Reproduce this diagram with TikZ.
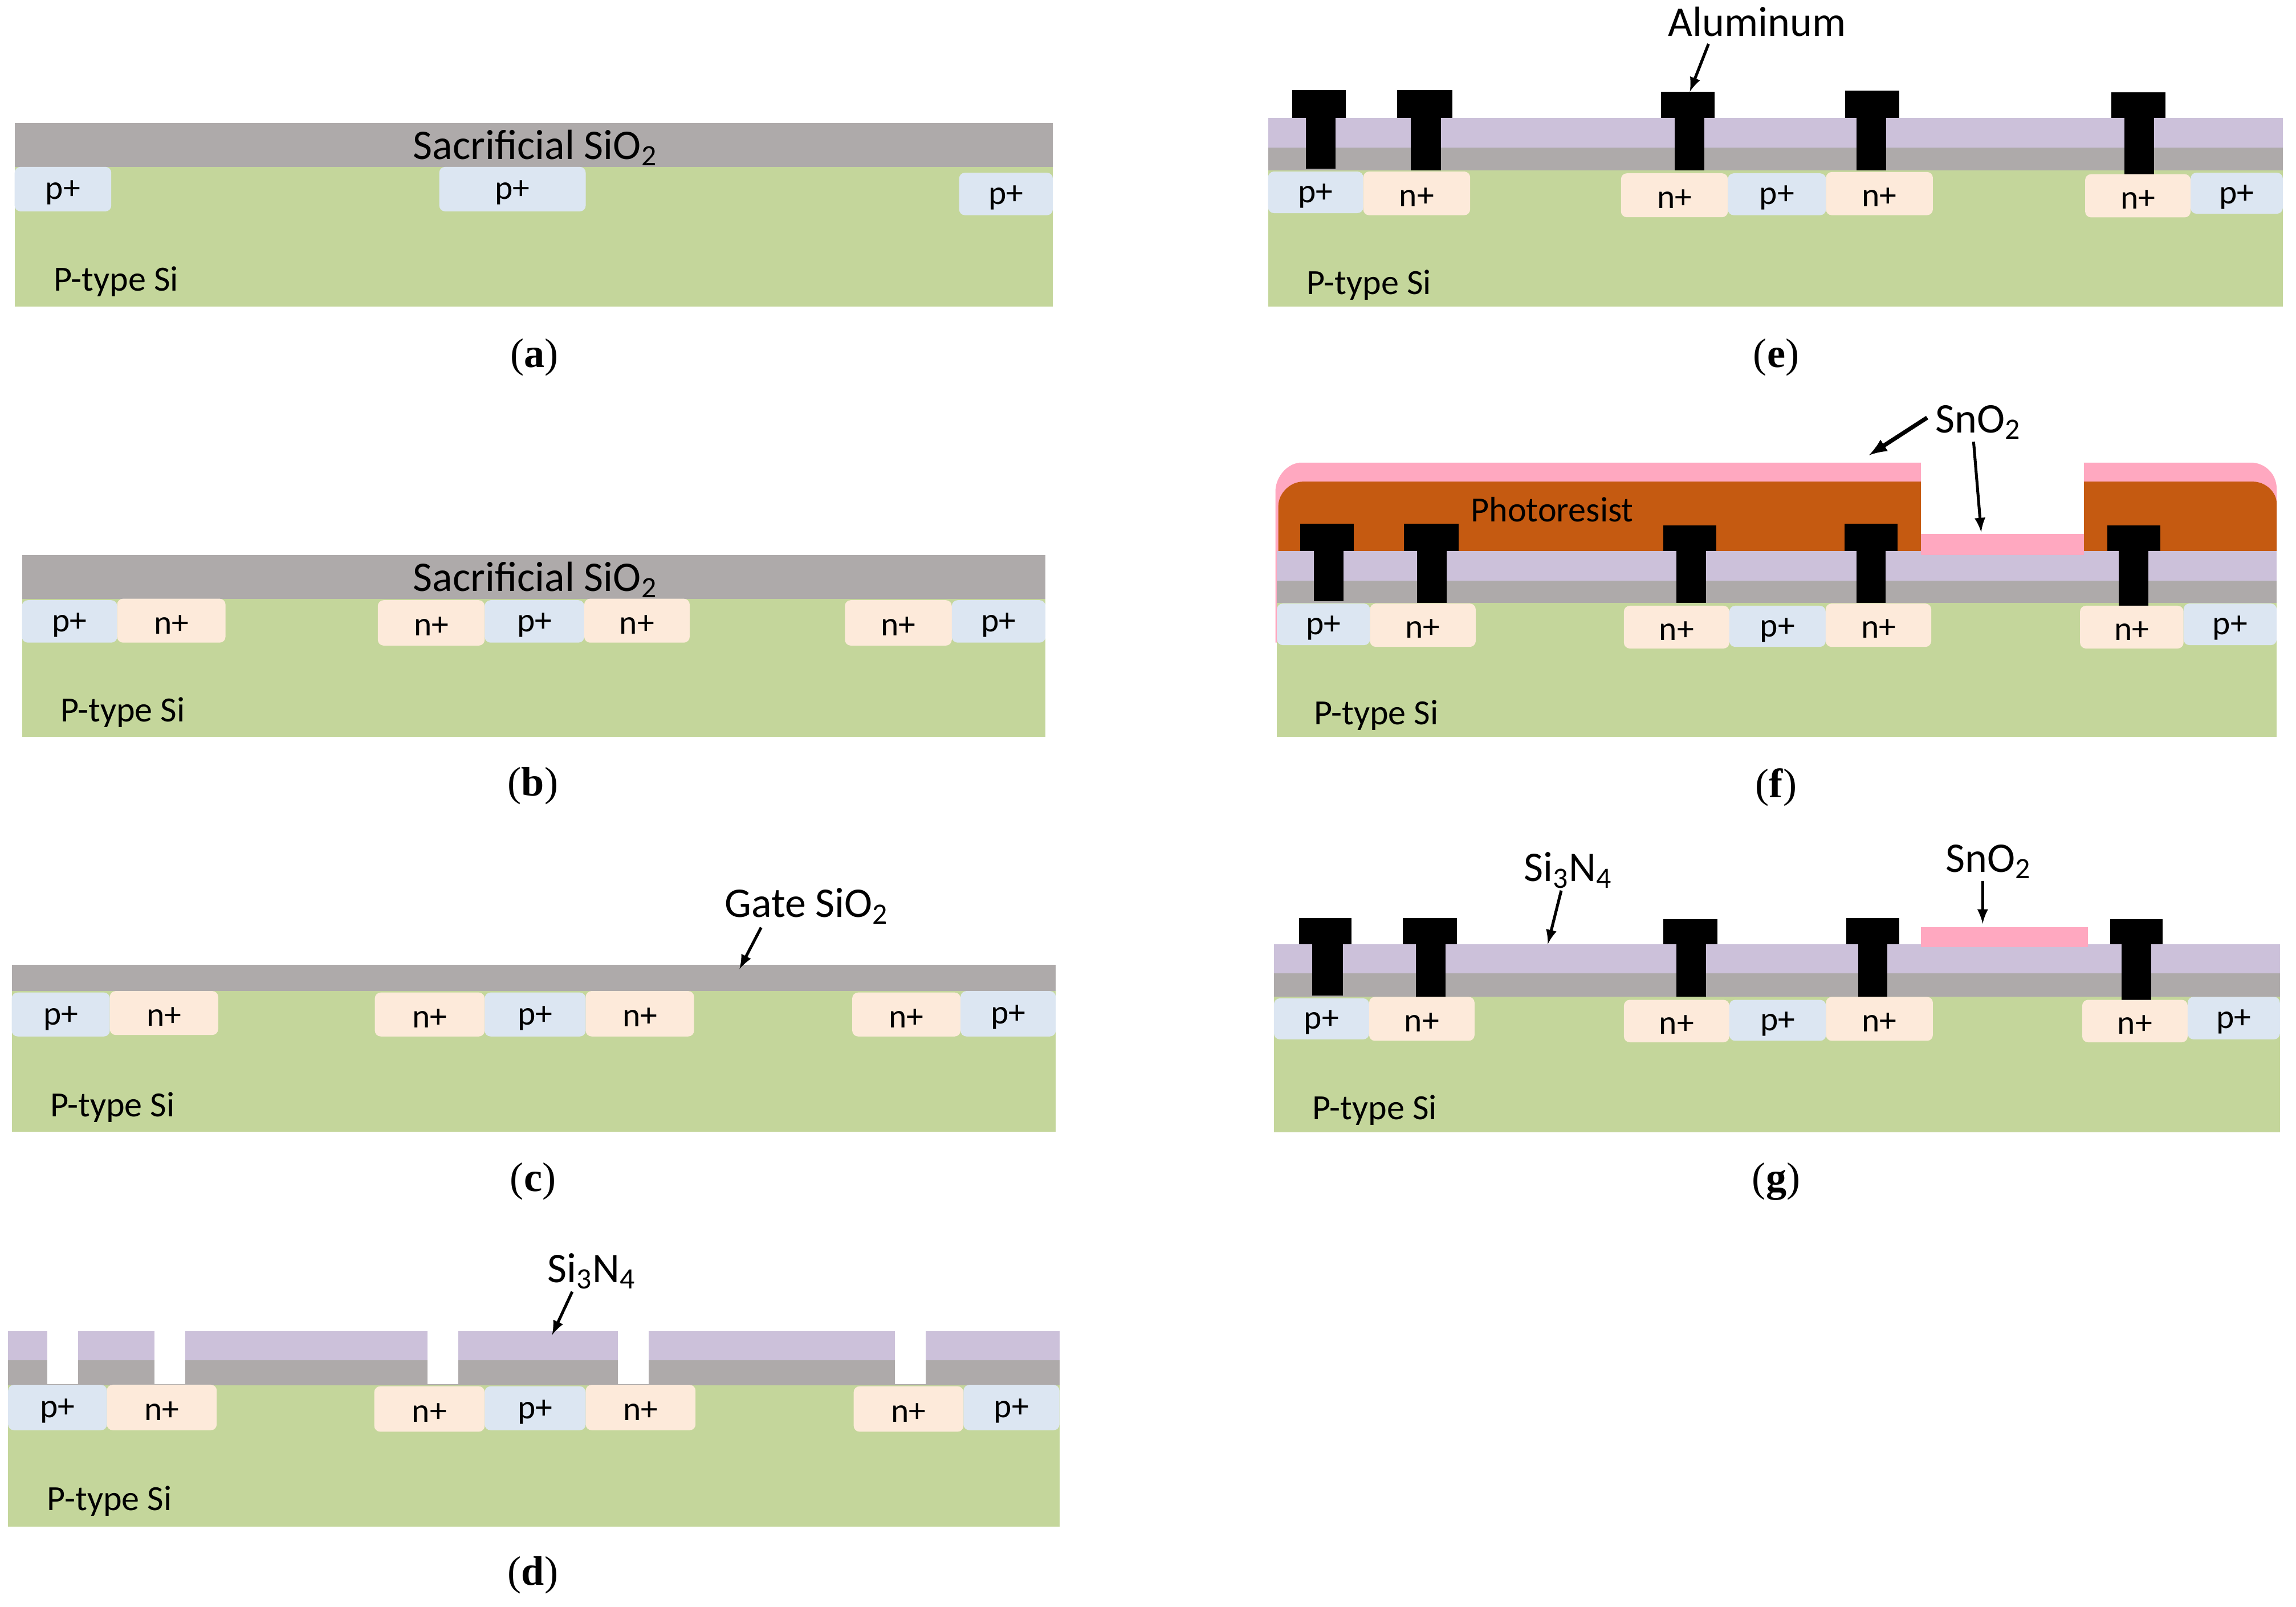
\documentclass[tikz,border=0pt]{standalone}
\usepackage{fontspec}
\setmainfont{Carlito}
\newfontfamily\capfont{Liberation Serif}
\usepackage{tikz}
\usetikzlibrary{calc}

\definecolor{substrate}{HTML}{C4D69B}
\definecolor{oxide}{HTML}{AEAAAA}
\definecolor{nitride}{HTML}{CCC1DA}
\definecolor{pzone}{HTML}{DCE6F2}
\definecolor{nzone}{HTML}{FDEADA}
\definecolor{resist}{HTML}{C55A11}
\definecolor{tinoxide}{HTML}{FFA8C0}

\tikzset{
    dopep/.style={fill=pzone, rounded corners=0.1cm},
    dopen/.style={fill=nzone, rounded corners=0.1cm},
    zonetext/.style={font=\fontsize{16.5}{20}\selectfont, inner sep=0pt},
    bodytext/.style={font=\fontsize{17.2}{20}\selectfont, inner sep=0pt, anchor=west},
    bigtext/.style={font=\fontsize{20.5}{24}\selectfont, inner sep=1pt},
    captext/.style={font=\capfont\fontsize{20}{24}\selectfont, inner sep=0pt},
    pointer/.style={->, line width=1.4pt}
}

% vung pha tap: ten, x1, y1, x2, y2, loai (p hoac n)
\newcommand{\zone}[6]{
    \fill[dope#6] (#2,#3) rectangle (#4,#5);
    \node[zonetext] (#1) at ($(#2,#3)!0.5!(#4,#5)+(0,2.5)$) {#6+};
}
% tiep xuc nhom: mu x1, mu x2, dinh mu, day mu, than x1, than x2, day than
\newcommand{\stud}[7]{
    \fill[black] (#1,#3) rectangle (#2,#4);
    \fill[black] (#5,#4) rectangle (#6,#7);
}

\begin{document}
\begin{tikzpicture}[>=latex, x=0.025cm, y=-0.025cm]
    \useasboundingbox (0,0) rectangle (1568,1097.4);

    % (a)
    \fill[substrate] (10,114) rectangle (719,209.5);
    \fill[oxide] (10,84) rectangle (719,114);
    \zone{pa1}{10}{114}{76}{144.4}{p}
    \zone{pa2}{300}{114}{400}{144.4}{p}
    \zone{pa3}{655}{118}{719}{147}{p}
    \node[bigtext] (sacA) at (365.5,101) {Sacrificial SiO\textsubscript{2}};
    \node[bodytext] (siA) at (36.5,192.5) {P-type Si};
    \node[captext] (capA) at (365,244) {(\textbf{a})};

    % (b)
    \fill[substrate] (15,409) rectangle (714,503.5);
    \fill[oxide] (15,379) rectangle (714,409);
    \zone{pb1}{15}{410}{80}{439}{p}
    \zone{nb1}{80}{409}{154}{439}{n}
    \zone{nb2}{258}{410}{331}{441}{n}
    \zone{pb2}{331}{410}{399}{439}{p}
    \zone{nb3}{399}{409}{471}{439}{n}
    \zone{nb4}{577}{410}{650}{441}{n}
    \zone{pb3}{650}{410}{714}{439}{p}
    \node[bigtext] (sacB) at (365.5,396) {Sacrificial SiO\textsubscript{2}};
    \node[bodytext] (siB) at (41,486.5) {P-type Si};
    \node[captext] (capB) at (364,537) {(\textbf{b})};

    % (c)
    \fill[substrate] (8,677) rectangle (721,773);
    \fill[oxide] (8,659) rectangle (721,677);
    \zone{pc1}{8}{678}{75}{708}{p}
    \zone{nc1}{75}{677}{149}{707}{n}
    \zone{nc2}{256}{678}{331}{708}{n}
    \zone{pc2}{331}{678}{400}{708}{p}
    \zone{nc3}{400}{677}{474}{708}{n}
    \zone{nc4}{582}{678}{656}{708}{n}
    \zone{pc3}{656}{677}{721}{708}{p}
    \node[bigtext] (gateC) at (551,619) {Gate SiO\textsubscript{2}};
    \coordinate (gateTip) at (505,662);
    \draw[pointer] ([xshift=-0.78cm,yshift=-0.02cm]gateC.south) -- (gateTip);
    \node[bodytext] (siC) at (34,756.5) {P-type Si};
    \node[captext] (capC) at (364,807) {(\textbf{c})};

    % (d)
    \fill[substrate] (5.5,946.4) rectangle (723.5,1042.8);
    \fill[oxide] (5.5,929.3) rectangle (723.5,946.4);
    \fill[nitride] (5.5,909.3) rectangle (723.5,929.3);
    \foreach \xa/\xb in {32.3/53.4, 105.5/126.6, 292/313, 422/443, 611/632}
        \fill[white] (\xa,909.3) rectangle (\xb,945.5);
    \zone{pd1}{5.5}{946}{73}{977}{p}
    \zone{nd1}{73}{945.9}{148}{977}{n}
    \zone{nd2}{255.6}{947}{331}{978}{n}
    \zone{pd2}{331}{947}{400}{977}{p}
    \zone{nd3}{400}{946}{475}{977}{n}
    \zone{nd4}{583}{947}{658}{978}{n}
    \zone{pd3}{658}{946}{723.5}{977}{p}
    \node[bigtext] (nitD) at (404,868.5) {Si\textsubscript{3}N\textsubscript{4}};
    \coordinate (nitDTip) at (377,912);
    \draw[pointer] ([xshift=-0.33cm]nitD.south) -- (nitDTip);
    \node[bodytext] (siD) at (32,1025.5) {P-type Si};
    \node[captext] (capD) at (364,1076) {(\textbf{d})};

    % (e)
    \fill[substrate] (866,116.4) rectangle (1559,209.5);
    \fill[oxide] (866,100.9) rectangle (1559,116.4);
    \fill[nitride] (866,80.6) rectangle (1559,100.9);
    \stud{882.5}{919}{61.5}{80.6}{892}{912}{115.3}
    \stud{954}{992}{61.5}{80.6}{963.4}{984}{116.4}
    \stud{1134.4}{1171}{62.7}{80.6}{1143.6}{1164}{116.4}
    \stud{1260}{1297}{62}{80.6}{1268}{1288}{116.4}
    \stud{1442}{1479}{63}{80.6}{1451}{1471}{119}
    \zone{pe1}{866}{117.2}{931}{145.6}{p}
    \zone{ne1}{931}{117.2}{1004}{147}{n}
    \zone{ne2}{1107}{118.4}{1180}{148.4}{n}
    \zone{pe2}{1180}{118.4}{1247}{147}{p}
    \zone{ne3}{1247}{117.5}{1320}{147}{n}
    \zone{ne4}{1424}{119}{1496}{148.5}{n}
    \zone{pe3}{1496}{118}{1559}{146}{p}
    \node[bigtext] (alE) at (1200,15) {Aluminum};
    \coordinate (alTip) at (1154,62.7);
    \draw[pointer] ([xshift=-0.83cm,yshift=-0.08cm]alE.south) -- (alTip);
    \node[bodytext] (siE) at (892,194.5) {P-type Si};
    \node[captext] (capE) at (1213,244) {(\textbf{e})};

    % (f)
    \fill[substrate] (872,411.9) rectangle (1554.8,503.5);
    % lop SnO2 va cham quang
    \fill[tinoxide] (871,439) -- (871,336) .. controls (871,325) and (880,316) .. (888.7,316)
        -- (1311.8,316) -- (1311.8,376.5) -- (1423,376.5) -- (1423,316) -- (1537.3,316)
        .. controls (1546,316) and (1554.8,323) .. (1554.8,334) -- (1554.8,376.5) -- (872,396) -- (872,439) -- cycle;
    \fill[resist] (873,376.5) -- (873,345.8) .. controls (873,337) and (881,329) .. (890,329)
        -- (1311.8,329) -- (1311.8,376.5) -- cycle;
    \fill[resist] (1423,376.5) -- (1423,329) -- (1538.5,329)
        .. controls (1547,329) and (1554.8,336) .. (1554.8,344) -- (1554.8,376.5) -- cycle;
    \fill[white] (1311.8,316) rectangle (1423,364.8);
    \fill[oxide] (872,396.7) rectangle (1554.8,411.9);
    \fill[nitride] (872,376.5) rectangle (1554.8,396.7);
    \fill[tinoxide] (1311.8,364.8) rectangle (1423,379);
    \stud{887.9}{924.4}{357.8}{376.5}{897.4}{917.5}{410.7}
    \stud{958.7}{996}{357.8}{376.5}{967.6}{988}{411.9}
    \stud{1135.9}{1172}{359}{376.5}{1145}{1165}{411.9}
    \stud{1259.7}{1295.9}{357.8}{376.5}{1267.8}{1287.6}{411.9}
    \stud{1439}{1475.3}{359}{376.5}{1447}{1467}{414.2}
    \zone{pf1}{872}{412.3}{935.6}{440.7}{p}
    \zone{nf1}{935.6}{412.3}{1007.8}{441.9}{n}
    \zone{nf2}{1109}{413.8}{1181}{443}{n}
    \zone{pf2}{1181}{413.8}{1246.8}{441.9}{p}
    \zone{nf3}{1246.8}{412.3}{1318.9}{441.9}{n}
    \zone{nf4}{1420.5}{413.8}{1491.2}{443}{n}
    \zone{pf3}{1491.2}{412.3}{1554.8}{440.7}{p}
    \node[zonetext, font=\fontsize{17.2}{20}\selectfont] (prF) at (1060,348) {Photoresist};
    \node[bigtext] (snoF) at (1351,288.5) {SnO\textsubscript{2}};
    \coordinate (snoTipA) at (1276.3,311);
    \coordinate (snoTipB) at (1353,363.6);
    \draw[pointer, line width=2pt] ([xshift=-0.1cm,yshift=0.08cm]snoF.west) -- (snoTipA);
    \draw[pointer] ([xshift=-0.08cm]snoF.south) -- (snoTipB);
    \node[bodytext] (siF) at (897,488.5) {P-type Si};
    \node[captext] (capF) at (1213,538) {(\textbf{f})};

    % (g)
    \fill[substrate] (870,681) rectangle (1557,773.5);
    \fill[oxide] (870,665) rectangle (1557,681);
    \fill[nitride] (870,645) rectangle (1557,665);
    \fill[tinoxide] (1312,633.5) rectangle (1426,647);
    \stud{887}{923}{627}{645}{896}{917}{680}
    \stud{958}{995}{627}{645}{967}{987}{681}
    \stud{1136}{1173}{628}{645}{1145}{1165}{681}
    \stud{1261}{1297}{627}{645}{1269}{1289}{681}
    \stud{1441}{1477}{628}{645}{1449}{1469}{683}
    \zone{pg1}{870}{682}{935}{710}{p}
    \zone{ng1}{935}{681}{1007}{711}{n}
    \zone{ng2}{1109}{683}{1181}{712}{n}
    \zone{pg2}{1181}{683}{1247}{711}{p}
    \zone{ng3}{1247}{681}{1320}{711}{n}
    \zone{ng4}{1422}{683}{1494}{712}{n}
    \zone{pg3}{1494}{681}{1557}{710}{p}
    \node[bigtext] (nitG) at (1071,594.5) {Si\textsubscript{3}N\textsubscript{4}};
    \coordinate (nitGTip) at (1057,645);
    \draw[pointer] ([xshift=-0.12cm]nitG.south) -- (nitGTip);
    \node[bigtext] (snoG) at (1358,588.5) {SnO\textsubscript{2}};
    \coordinate (snoGTip) at (1354,631);
    \draw[pointer] ([xshift=-0.1cm]snoG.south) -- (snoGTip);
    \node[bodytext] (siG) at (896,758.5) {P-type Si};
    \node[captext] (capG) at (1213,807) {(\textbf{g})};
\end{tikzpicture}
\end{document}
